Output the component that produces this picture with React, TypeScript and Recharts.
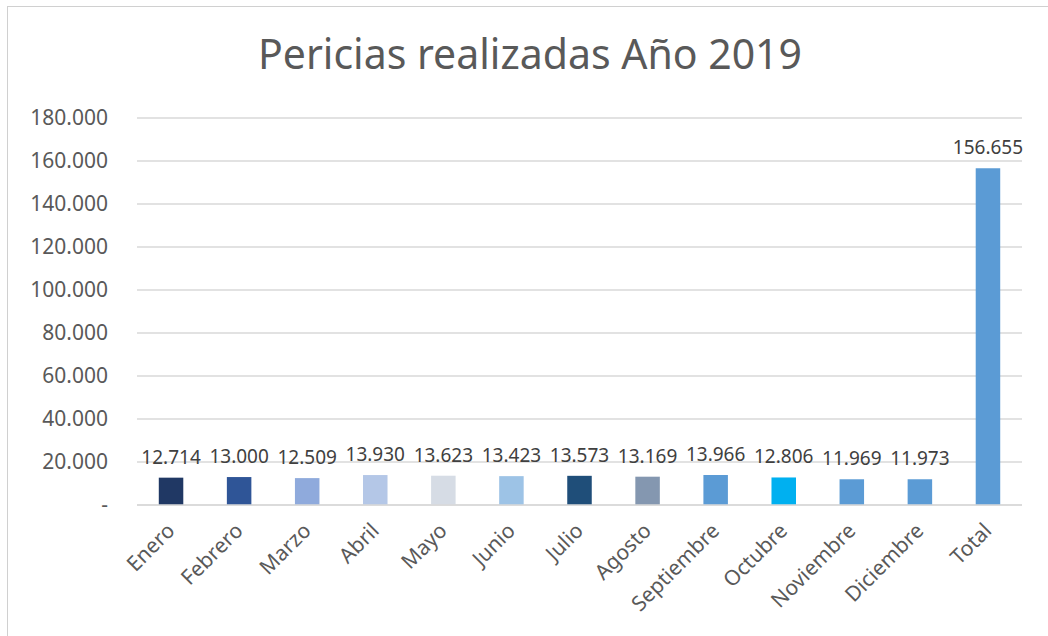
import { BarChart, Bar, XAxis, YAxis, CartesianGrid, Cell, LabelList } from "recharts"

const months = [
    "Enero", "Febrero", "Marzo", "Abril", "Mayo", "Junio", "Julio",
    "Agosto", "Septiembre", "Octubre", "Noviembre", "Diciembre", "Total",
]
const pericias = [12714, 13000, 12509, 13930, 13623, 13423, 13573, 13169, 13966, 12806, 11969, 11973, 156655]
const barColors = [
    "#203864", "#2F5597", "#8FAADC", "#B4C7E7", "#D6DCE5", "#9DC3E6", "#1F4E79",
    "#8497B0", "#5B9BD5", "#00B0F0", "#5B9BD5", "#5B9BD5", "#5B9BD5",
]
const yTicks = [0, 20000, 40000, 60000, 80000, 100000, 120000, 140000, 160000, 180000]

const chartData = months.map((m, i) => ({ month: m, value: pericias[i] }))

const FONT = "'Noto Sans', 'Open Sans', sans-serif"

// 12714 -> "12.714", 0 -> "-"
const fmt = (v: number) =>
    v === 0 ? "-" : String(Math.round(v)).replace(/\B(?=(\d{3})+(?!\d))/g, ".")

const MonthTick = ({ x, y, payload }: any) => (
    <g transform={`translate(${x + 5},${y + 19})`}>
        <text
            x={0} y={0}
            textAnchor="end"
            transform="rotate(-45)"
            fill="#595959"
            fontSize={21}
            fontFamily={FONT}
        >
            {payload.value}
        </text>
    </g>
)

export default function App() {
    return (
        <div style={{ position: "absolute", left: 0, top: 0, width: 1048, height: 636, background: "#fff" }}>
            <div style={{ position: "absolute", left: 7, top: 6, width: 1041, height: 630, borderLeft: "1px solid #D0D0D0", borderTop: "1px solid #D0D0D0" }} />
            <div style={{
                position: "absolute", left: 0, top: 25, width: 1060, textAlign: "center",
                fontFamily: FONT, fontSize: 41, color: "#595959",
            }}>
                Pericias realizadas Año 2019
            </div>
            <BarChart
                width={1048}
                height={636}
                data={chartData}
                margin={{ top: 118, right: 26, bottom: 0, left: 0 }}
                barCategoryGap="68%"
                style={{ position: "absolute", left: 0, top: 0 }}
            >
                <CartesianGrid vertical={false} stroke="#D9D9D9" strokeWidth={1.5} />
                <XAxis
                    dataKey="month"
                    height={131}
                    interval={0}
                    axisLine={{ stroke: "#D9D9D9", strokeWidth: 1.5 }}
                    tickLine={false}
                    tick={<MonthTick />}
                />
                <YAxis
                    width={137}
                    domain={[0, 180000]}
                    ticks={yTicks}
                    axisLine={false}
                    tickLine={false}
                    tickMargin={23}
                    tickFormatter={fmt}
                    tick={{ fill: "#595959", fontSize: 21, fontFamily: FONT }}
                />
                <Bar dataKey="value" isAnimationActive={false}>
                    {chartData.map((d, i) => (
                        <Cell key={d.month} fill={barColors[i]} />
                    ))}
                    <LabelList
                        dataKey="value"
                        position="top"
                        offset={14}
                        formatter={(v: any) => fmt(Number(v))}
                        style={{ fill: "#404040", fontSize: 19, fontFamily: FONT }}
                    />
                </Bar>
            </BarChart>
        </div>
    )
}
